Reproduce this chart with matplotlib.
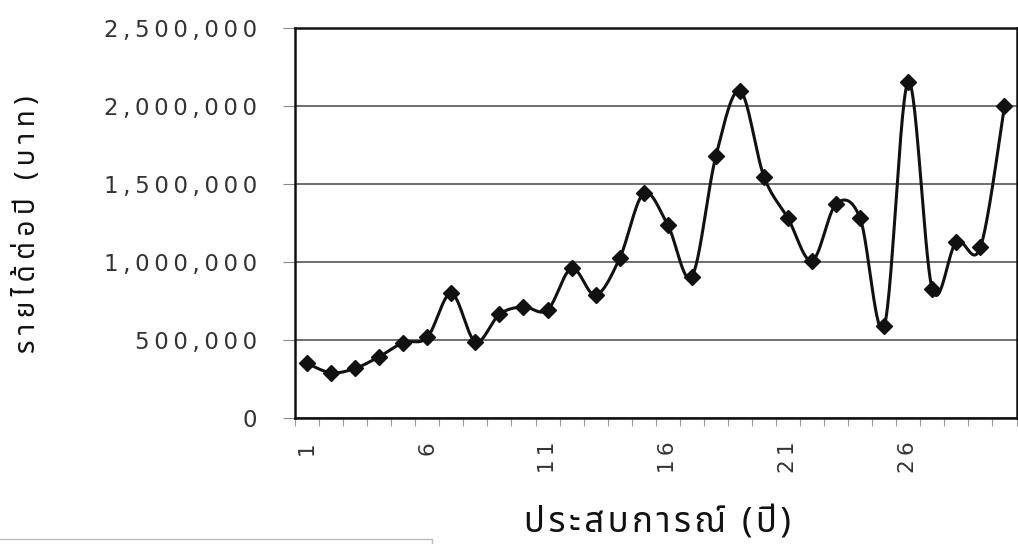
import numpy as np
import matplotlib
matplotlib.use("Agg")
import matplotlib.pyplot as plt
from matplotlib import font_manager as fm
from matplotlib.ft2font import FT2Font
from matplotlib.patches import Rectangle
from matplotlib.ticker import FixedLocator, FuncFormatter

# ---------------- data ----------------
experience_years = list(range(1, 31))
income_per_year = [350000, 290000, 318000, 393000, 483000, 517000, 799000, 489000,
                   665000, 713000, 692000, 960000, 788000, 1024000, 1440000, 1237000,
                   906000, 1679000, 2098000, 1547000, 1280000, 1008000, 1372000, 1280000,
                   590000, 2156000, 825000, 1130000, 1094000, 2000000]
x_tick_labels = [1, 6, 11, 16, 21, 26]
y_ticks = [0, 500000, 1000000, 1500000, 2000000, 2500000]
x_title = "ประสบการณ์ (ปี)"
y_title = "รายได้ต่อปี (บาท)"

# ---------------- fonts ----------------
preferred = ['Noto Sans Thai', 'Noto Sans Thai UI', 'Loma', 'Garuda', 'Waree', 'Umpush',
             'Sarabun', 'Norasi', 'Kinnari', 'Tlwg Typo', 'Laksaman']
thai_fams = []
for f in fm.fontManager.ttflist:
    try:
        cm = FT2Font(f.fname).get_charmap()
    except Exception:
        continue
    if 0x0E23 in cm and 0x0E1B in cm and f.name not in thai_fams:
        thai_fams.append(f.name)
thai_fams.sort(key=lambda n: preferred.index(n) if n in preferred else 100)
thai_family = (thai_fams[:1] if thai_fams else []) + ['DejaVu Sans']

COMBINING = set([0x0E31] + list(range(0x0E34, 0x0E3B)) + list(range(0x0E47, 0x0E4F)))


def spaced(s, sep='\u2009'):
    out = ''
    for i, ch in enumerate(s):
        if i > 0 and ord(ch) not in COMBINING:
            out += sep
        out += ch
    return out


# ---------------- smoothed curve (Bezier through points) ----------------
def smooth(xs, ys, n=30, k=1 / 6):
    xs = np.asarray(xs, float)
    ys = np.asarray(ys, float)
    px = np.concatenate([[xs[0]], xs, [xs[-1]]])
    py = np.concatenate([[ys[0]], ys, [ys[-1]]])
    ox, oy = [], []
    t = np.linspace(0, 1, n)
    for i in range(1, len(px) - 2):
        p0 = np.array([px[i], py[i]])
        p3 = np.array([px[i + 1], py[i + 1]])
        c1 = p0 + (np.array([px[i + 1], py[i + 1]]) - np.array([px[i - 1], py[i - 1]])) * k
        c2 = p3 - (np.array([px[i + 2], py[i + 2]]) - np.array([px[i], py[i]])) * k
        b = ((1 - t) ** 3)[:, None] * p0 + (3 * (1 - t) ** 2 * t)[:, None] * c1 + \
            (3 * (1 - t) * t ** 2)[:, None] * c2 + (t ** 3)[:, None] * p3
        ox.extend(b[:, 0])
        oy.extend(b[:, 1])
    return np.array(ox), np.array(oy)


# ---------------- figure ----------------
fig = plt.figure(figsize=(10.18, 5.44), dpi=100)
fig.patch.set_facecolor('white')
ax = fig.add_axes([295 / 1018, (544 - 418) / 544, (1016.5 - 295) / 1018, (418 - 28) / 544])

sx, sy = smooth(experience_years, income_per_year)
ax.plot(sx, sy, color='#111111', lw=2.2, zorder=3, solid_capstyle='round')
ax.plot(experience_years, income_per_year, linestyle='none', marker='D', ms=8,
        color='#111111', zorder=4)

ax.set_xlim(0.5, 30.5)
ax.set_ylim(0, 2500000)

ax.yaxis.set_major_locator(FixedLocator(y_ticks))
ax.yaxis.set_major_formatter(FuncFormatter(lambda v, p: spaced(f"{int(v):,}")))
ax.grid(axis='y', color='#555555', lw=1.2, zorder=1)

ax.xaxis.set_major_locator(FixedLocator(x_tick_labels))
ax.xaxis.set_major_formatter(FuncFormatter(lambda v, p: spaced(str(int(round(v))))))
ax.xaxis.set_minor_locator(FixedLocator(np.arange(0.5, 31, 1.0)))
ax.tick_params(axis='x', which='major', length=0, pad=17, labelsize=15.5,
               labelrotation=90, colors='#333333')
ax.tick_params(axis='x', which='minor', length=6, width=0.8, color='#999999', direction='out')
ax.tick_params(axis='y', which='major', length=9, width=0.8, color='#888888', pad=18,
               labelsize=16.5, labelcolor='#333333')
for lab in ax.get_xticklabels() + ax.get_yticklabels():
    lab.set_family('DejaVu Sans')

for sp in ax.spines.values():
    sp.set_color('#111111')
    sp.set_linewidth(1.8)
ax.set_axisbelow(True)

fig.text(657 / 1018, (544 - 523) / 544, spaced(x_title, '\u200a'), ha='center', va='center',
         fontsize=25, family=thai_family, color='#111111')
fig.text(28 / 1018, (544 - 224) / 544, spaced(y_title, '\u2009'), ha='center', va='center',
         rotation=90, fontsize=20, family=thai_family, color='#111111')

# partial box at bottom-left (cropped legend frame)
fig.patches.append(Rectangle((-0.01, -0.05), (432 / 1018) + 0.01, 0.05 + 5 / 544,
                             transform=fig.transFigure, fill=False,
                             edgecolor='#bbbbbb', lw=1.0))

fig.savefig('out.png', dpi=100)
